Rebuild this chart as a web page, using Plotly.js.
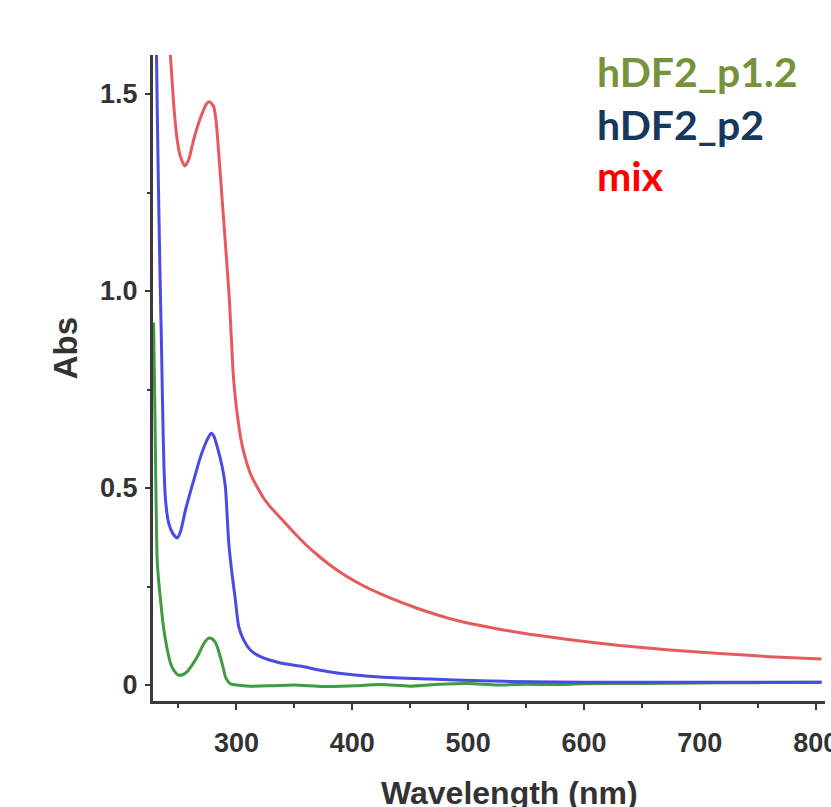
<!DOCTYPE html>
<html>
<head>
<meta charset="utf-8">
<script src="https://cdn.plot.ly/plotly-3.0.1.min.js"></script>
<style>html,body{margin:0;padding:0;background:#fff;}#chart{width:831px;height:807px;}</style>
</head>
<body>
<div id="chart"></div>
<script>
// Series: mix (red)
const mixWl  = [240, 243, 246, 248.9, 251.7, 255.4, 259, 263, 269, 274.7, 277, 280.4, 282.5, 285, 288, 291, 294, 297, 299, 300.6, 303.4, 306, 309.2, 313, 317.8, 323.5, 329.3, 340, 350, 360, 370, 381, 395, 409.5, 424, 438.5, 453, 467, 481, 495.7, 524.7, 553, 588, 631, 674, 717, 760, 805];
const mixAbs = [1.75, 1.60, 1.468, 1.383, 1.341, 1.317, 1.335, 1.383, 1.44, 1.477, 1.48, 1.468, 1.43, 1.34, 1.22, 1.10, 0.975, 0.80, 0.73, 0.69, 0.632, 0.595, 0.561, 0.530, 0.503, 0.474, 0.452, 0.418, 0.386, 0.356, 0.330, 0.304, 0.276, 0.252, 0.232, 0.214, 0.198, 0.184, 0.171, 0.160, 0.143, 0.129, 0.115, 0.100, 0.089, 0.080, 0.072, 0.066];

// Series: hDF2_p2 (blue)
const p2Wl  = [229, 231, 232.5, 234, 235.2, 236.2, 237.4, 238.8, 241.6, 245, 249, 252, 256, 259.5, 263.2, 269, 274.7, 278.2, 280.5, 283.4, 287.7, 290.5, 292, 293.4, 296.3, 299.1, 302, 306.3, 312, 320.7, 338, 355, 381, 424, 467, 510, 553, 600, 650, 700, 750, 805];
const p2Abs = [2.1, 1.6, 1.3, 1.05, 0.88, 0.72, 0.56, 0.47, 0.41, 0.385, 0.373, 0.392, 0.444, 0.482, 0.520, 0.579, 0.622, 0.639, 0.632, 0.605, 0.554, 0.503, 0.43, 0.36, 0.28, 0.216, 0.148, 0.114, 0.089, 0.072, 0.056, 0.048, 0.033, 0.020, 0.015, 0.011, 0.008, 0.007, 0.007, 0.007, 0.007, 0.007];

// Series: hDF2_p1.2 (green)
const p12Wl  = [228.5, 229.5, 230.5, 231.6, 233, 234.5, 236.5, 238.8, 243, 246.5, 250, 253.5, 257.5, 263, 267, 270.4, 273, 276, 279, 282, 284, 286, 288.5, 290.5, 293, 295, 300, 312, 330, 350, 375, 400, 425, 450, 475, 500, 525, 550, 575, 600, 650, 700, 750, 805];
const p12Abs = [0.92, 0.72, 0.50, 0.317, 0.26, 0.216, 0.16, 0.114, 0.056, 0.035, 0.025, 0.026, 0.034, 0.056, 0.076, 0.097, 0.11, 0.119, 0.117, 0.107, 0.092, 0.072, 0.045, 0.021, 0.008, 0.003, 0.0, -0.003, -0.002, 0.0, -0.004, -0.002, 0.001, -0.003, 0.002, 0.004, 0.0, 0.002, 0.001, 0.003, 0.004, 0.005, 0.006, 0.007];

// Tick labels
const xTickVals = [300, 400, 500, 600, 700, 800];
const xTickText = ['300', '400', '500', '600', '700', '800'];
const yTickVals = [0, 0.5, 1.0, 1.5];
const yTickText = ['0', '0.5', '1.0', '1.5'];

// Legend labels
const seriesNames = ['hDF2_p1.2', 'hDF2_p2', 'mix'];

const traces = [
  {x: p12Wl, y: p12Abs, name: seriesNames[0], mode: 'lines', line: {color: '#3f9c40', width: 3, shape: 'spline', smoothing: 0.6}},
  {x: p2Wl,  y: p2Abs,  name: seriesNames[1], mode: 'lines', line: {color: '#4a4ae4', width: 3, shape: 'spline', smoothing: 0.6}},
  {x: mixWl, y: mixAbs, name: seriesNames[2], mode: 'lines', line: {color: '#e65a5e', width: 3, shape: 'spline', smoothing: 0.6}}
];

const tickFont = {family: 'Liberation Sans, Arial, sans-serif', size: 27, color: '#333333', weight: 'bold'};
const legFont = (c) => ({family: 'Lato, sans-serif', size: 41, color: c, weight: 'bold'});

const layout = {
  width: 831, height: 807,
  margin: {l: 153, r: 6, t: 55, b: 106, pad: 0},
  paper_bgcolor: '#ffffff', plot_bgcolor: '#ffffff',
  showlegend: false,
  xaxis: {
    range: [228, 808], showgrid: false, zeroline: false,
    showline: true, linecolor: '#3a3a3a', linewidth: 3,
    ticks: 'outside', ticklen: 6, tickwidth: 2, tickcolor: '#3a3a3a',
    tickvals: xTickVals, ticktext: xTickText, tickfont: tickFont,
    ticklabelstandoff: 10, ticklabeloverflow: 'allow',
    minor: {tickvals: [250, 350, 450, 550, 650, 750], ticks: 'outside', ticklen: 4, tickwidth: 2, tickcolor: '#3a3a3a'}
  },
  yaxis: {
    range: [-0.0406, 1.599], showgrid: false, zeroline: false,
    showline: true, linecolor: '#3a3a3a', linewidth: 3,
    ticks: 'outside', ticklen: 5, tickwidth: 2, tickcolor: '#3a3a3a',
    tickvals: yTickVals, ticktext: yTickText, tickfont: tickFont,
    ticklabelstandoff: 2,
    minor: {tickvals: [0.25, 0.75, 1.25], ticks: 'outside', ticklen: 3, tickwidth: 2, tickcolor: '#3a3a3a'}
  },
  annotations: [
    {text: 'Wavelength (nm)', xref: 'paper', yref: 'paper', x: 0.531, y: -0.1107, xanchor: 'center', yanchor: 'top', showarrow: false,
     font: {family: 'Liberation Sans, Arial, sans-serif', size: 32, color: '#333333', weight: 'bold'}},
    {text: 'Abs', xref: 'paper', yref: 'paper', x: -0.131, y: 0.546, xanchor: 'center', yanchor: 'middle', textangle: -90, showarrow: false,
     font: {family: 'Liberation Sans, Arial, sans-serif', size: 33, color: '#333333', weight: 'bold'}},
    {text: seriesNames[0], xref: 'paper', yref: 'paper', x: 0.657, y: 0.9737, xanchor: 'left', yanchor: 'middle', showarrow: false, font: legFont('#76933c')},
    {text: seriesNames[1], xref: 'paper', yref: 'paper', x: 0.657, y: 0.893, xanchor: 'left', yanchor: 'middle', showarrow: false, font: legFont('#17375e')},
    {text: seriesNames[2], xref: 'paper', yref: 'paper', x: 0.657, y: 0.814, xanchor: 'left', yanchor: 'middle', showarrow: false, font: legFont('#ff0000')}
  ]
};

Plotly.newPlot('chart', traces, layout, {displayModeBar: false, staticPlot: true});
</script>
</body>
</html>
